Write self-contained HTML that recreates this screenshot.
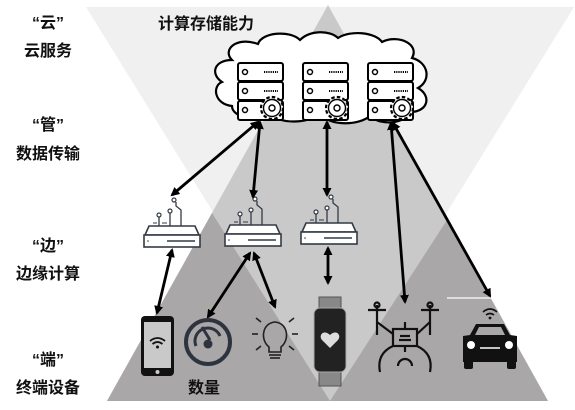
<!DOCTYPE html>
<html><head><meta charset="utf-8"><style>
html,body{margin:0;padding:0;background:#fff;}
svg{display:block}
text{font-family:"Liberation Sans","Noto Sans CJK SC",sans-serif;font-weight:bold;fill:#111;}
</style></head><body>
<svg width="575" height="410" viewBox="0 0 575 410" xmlns="http://www.w3.org/2000/svg">
<defs>
<marker id="ah" markerWidth="9" markerHeight="9" refX="7" refY="4.5" orient="auto-start-reverse" markerUnits="userSpaceOnUse">
<path d="M0,0 L9,4.5 L0,9 z" fill="#000"/></marker>
<g id="srv">
 <rect x="0" y="0" width="45" height="18" rx="2" fill="#fff" stroke="#000" stroke-width="2"/>
 <rect x="0" y="19" width="45" height="18" rx="2" fill="#fff" stroke="#000" stroke-width="2"/>
 <rect x="0" y="38" width="45" height="19" rx="2" fill="#fff" stroke="#000" stroke-width="2"/>
 <circle cx="7" cy="9" r="2.5" fill="none" stroke="#000" stroke-width="1.5"/>
 <circle cx="7" cy="28" r="2.5" fill="none" stroke="#000" stroke-width="1.5"/>
 <circle cx="7" cy="47" r="2.5" fill="none" stroke="#000" stroke-width="1.5"/>
 <line x1="26" y1="9" x2="40" y2="9" stroke="#000" stroke-width="2" stroke-dasharray="1.2,1"/>
 <line x1="26" y1="28" x2="40" y2="28" stroke="#000" stroke-width="2" stroke-dasharray="1.2,1"/>
 <line x1="14" y1="38" x2="26" y2="38" stroke="#000" stroke-width="1.5"/>
 <circle cx="34" cy="45" r="11" fill="#fff" stroke="#000" stroke-width="2.2" stroke-dasharray="3.5,2.2"/>
 <circle cx="34" cy="45" r="8.5" fill="#fff" stroke="#000" stroke-width="1.4"/>
 <circle cx="34" cy="45" r="3" fill="none" stroke="#000" stroke-width="1.4"/>
</g>
<g id="rtr">
 <path d="M2,13 L6,4 L52,4 L56,13 Z" fill="#fff" stroke="#333a45" stroke-width="1.6"/>
 <rect x="1" y="13" width="56" height="12" fill="#fff" stroke="#333a45" stroke-width="1.6"/>
 <line x1="24" y1="19" x2="52" y2="19" stroke="#333a45" stroke-width="1.5"/>
 <circle cx="5" cy="19" r="0.8" fill="#333a45"/>
 <line x1="16" y1="4" x2="16" y2="-5" stroke="#333a45" stroke-width="1.3"/>
 <circle cx="16" cy="-7" r="2" fill="#fff" stroke="#333a45" stroke-width="1.2"/>
 <line x1="27" y1="4" x2="27" y2="-9" stroke="#333a45" stroke-width="1.3"/>
 <circle cx="27" cy="-11" r="2" fill="#fff" stroke="#333a45" stroke-width="1.2"/>
 <path d="M38,4 L38,-12 L33,-16 L33,-20" fill="none" stroke="#333a45" stroke-width="1.3"/>
 <circle cx="31" cy="-22" r="2" fill="#fff" stroke="#333a45" stroke-width="1.2"/>
 <line x1="10" y1="1" x2="14" y2="1" stroke="#333a45" stroke-width="1"/>
 <line x1="19" y1="1" x2="24" y2="1" stroke="#333a45" stroke-width="1"/>
</g>
</defs>
<polygon points="86,7 574,7 330,401" fill="#f0f0f0"/>
<polygon points="328,5 548,401 107,401" fill="#c9c9c9"/>
<polygon points="212,213 330,401 107,401" fill="#a9a7a7"/>
<polygon points="447,220 548,401 330,401" fill="#a9a7a7"/>
<line x1="447" y1="298" x2="533" y2="298" stroke="#fff" stroke-width="1.2"/>

<path d="M232,60 C222,50 236,36 258,44 C262,32 290,30 300,40 C310,30 330,30 338,38 C350,30 375,32 382,42 C398,34 420,44 412,58 C428,62 432,80 418,88 C432,96 428,112 410,112 C406,124 380,126 370,116 C358,126 330,126 320,114 C306,124 280,124 270,114 C258,122 232,118 232,106 C214,104 212,86 222,82 C210,74 214,60 232,60 Z" fill="#fff" stroke="#000" stroke-width="2.2"/>
<use href="#srv" x="238" y="63"/>
<use href="#srv" x="303" y="63"/>
<use href="#srv" x="368" y="63"/>

<use href="#rtr" x="143" y="222"/>
<use href="#rtr" x="224" y="221"/>
<use href="#rtr" x="300" y="219"/>

<g stroke="#000" stroke-width="2.8" fill="none">
<line x1="258" y1="122" x2="172" y2="195" marker-start="url(#ah)" marker-end="url(#ah)"/>
<line x1="260" y1="122" x2="253" y2="197" marker-start="url(#ah)" marker-end="url(#ah)"/>
<line x1="327" y1="122" x2="327" y2="195" marker-start="url(#ah)" marker-end="url(#ah)"/>
<line x1="391" y1="123" x2="405" y2="302" marker-start="url(#ah)" marker-end="url(#ah)"/>
<line x1="393" y1="123" x2="490" y2="296" marker-start="url(#ah)" marker-end="url(#ah)"/>
<line x1="172" y1="250" x2="157" y2="313" marker-start="url(#ah)" marker-end="url(#ah)"/>
<line x1="250" y1="253" x2="208" y2="317" marker-start="url(#ah)" marker-end="url(#ah)"/>
<line x1="254" y1="253" x2="275" y2="307" marker-start="url(#ah)" marker-end="url(#ah)"/>
<line x1="328" y1="248" x2="328" y2="283" marker-start="url(#ah)" marker-end="url(#ah)"/>
</g>

<rect x="141" y="316" width="33" height="60" rx="4" fill="#111"/>
<rect x="144" y="322" width="27" height="46" fill="#c9c9c9"/>
<circle cx="157.5" cy="372" r="2" fill="#c9c9c9"/>
<g fill="none" stroke="#111" stroke-width="1.8">
<path d="M150,341 Q157.5,335 165,341"/><path d="M152.5,344 Q157.5,340 162.5,344"/></g>
<circle cx="157.5" cy="347" r="1.5" fill="#111"/>

<circle cx="208" cy="342" r="22" fill="none" stroke="#2e3340" stroke-width="4"/>
<path d="M196,346 A13,13 0 0 1 220,336" fill="none" stroke="#2e3340" stroke-width="3"/>
<path d="M202,327 L210,340" stroke="#2e3340" stroke-width="3"/>
<circle cx="208" cy="344" r="4.5" fill="#2e3340"/>

<g stroke="#222" stroke-width="1.6" fill="none">
<path d="M269,347 C260,340 262,323 275,322 C288,323 290,340 281,347 L281,352 L269,352 Z"/>
<line x1="269" y1="355" x2="281" y2="355"/><line x1="270" y1="358" x2="280" y2="358"/>
<line x1="252" y1="334" x2="258" y2="334"/><line x1="292" y1="334" x2="298" y2="334"/>
<line x1="256" y1="318" x2="261" y2="322"/><line x1="294" y1="318" x2="289" y2="322"/>
<line x1="256" y1="350" x2="261" y2="346"/><line x1="294" y1="350" x2="289" y2="346"/>
</g>

<rect x="319" y="297" width="22" height="13" fill="#888" stroke="#555"/>
<rect x="319" y="371" width="22" height="15" fill="#888" stroke="#555"/>
<rect x="314" y="308" width="32" height="64" rx="6" fill="#222" stroke="#aaa" stroke-width="1"/>
<path d="M330,348 L322,340 C318,335 324,329 330,335 C336,329 342,335 338,340 Z" fill="#ddd"/>

<g stroke="#111" stroke-width="2.2" fill="none">
<line x1="368" y1="310" x2="386" y2="310"/><line x1="421" y1="310" x2="439" y2="310"/>
<circle cx="377" cy="305" r="2.5"/><circle cx="430" cy="305" r="2.5"/>
<line x1="377" y1="305" x2="377" y2="335"/><line x1="430" y1="305" x2="430" y2="335"/>
<rect x="393" y="329" width="24" height="17" fill="#a9a7a7"/>
<line x1="400" y1="336" x2="410" y2="336"/><line x1="399" y1="340" x2="411" y2="340"/>
<line x1="405" y1="322" x2="405" y2="329"/>
<path d="M377,322 L393,334"/><path d="M430,322 L417,334"/>
<path d="M393,346 C380,352 378,362 380,372"/><path d="M417,346 C430,352 432,362 430,372"/>
<line x1="405" y1="346" x2="405" y2="352"/>
<path d="M398,366 A7,7 0 1 1 412,366"/>
</g>

<g fill="#111">
<path d="M470,335 L476,324 L504,324 L510,335 L517,336 L517,362 L463,362 L463,336 Z"/>
<rect x="464" y="360" width="9" height="9" rx="2"/><rect x="507" y="360" width="9" height="9" rx="2"/>
</g>
<path d="M475,335 L479,327 L501,327 L505,335 Z" fill="#a9a7a7"/>
<circle cx="471" cy="345" r="4" fill="#fff"/><circle cx="509" cy="345" r="4" fill="#fff"/>
<line x1="480" y1="348" x2="500" y2="348" stroke="#fff" stroke-width="1.5"/>
<g fill="none" stroke="#111" stroke-width="1.6">
<path d="M483,312 Q490,306 497,312"/><path d="M486,315 Q490,312 494,315"/></g>
<circle cx="490" cy="318" r="1.4" fill="#111"/>

<g font-size="16" text-anchor="middle">
<text x="48" y="28">“云”</text>
<text x="48" y="56">云服务</text>
<text x="48" y="130">“管”</text>
<text x="48" y="159">数据传输</text>
<text x="48" y="251">“边”</text>
<text x="48" y="279">边缘计算</text>
<text x="48" y="365">“端”</text>
<text x="48" y="393">终端设备</text>
</g>
<text x="158" y="29" font-size="16">计算存储能力</text>
<text x="188" y="393" font-size="16">数量</text>
</svg>
</body></html>
